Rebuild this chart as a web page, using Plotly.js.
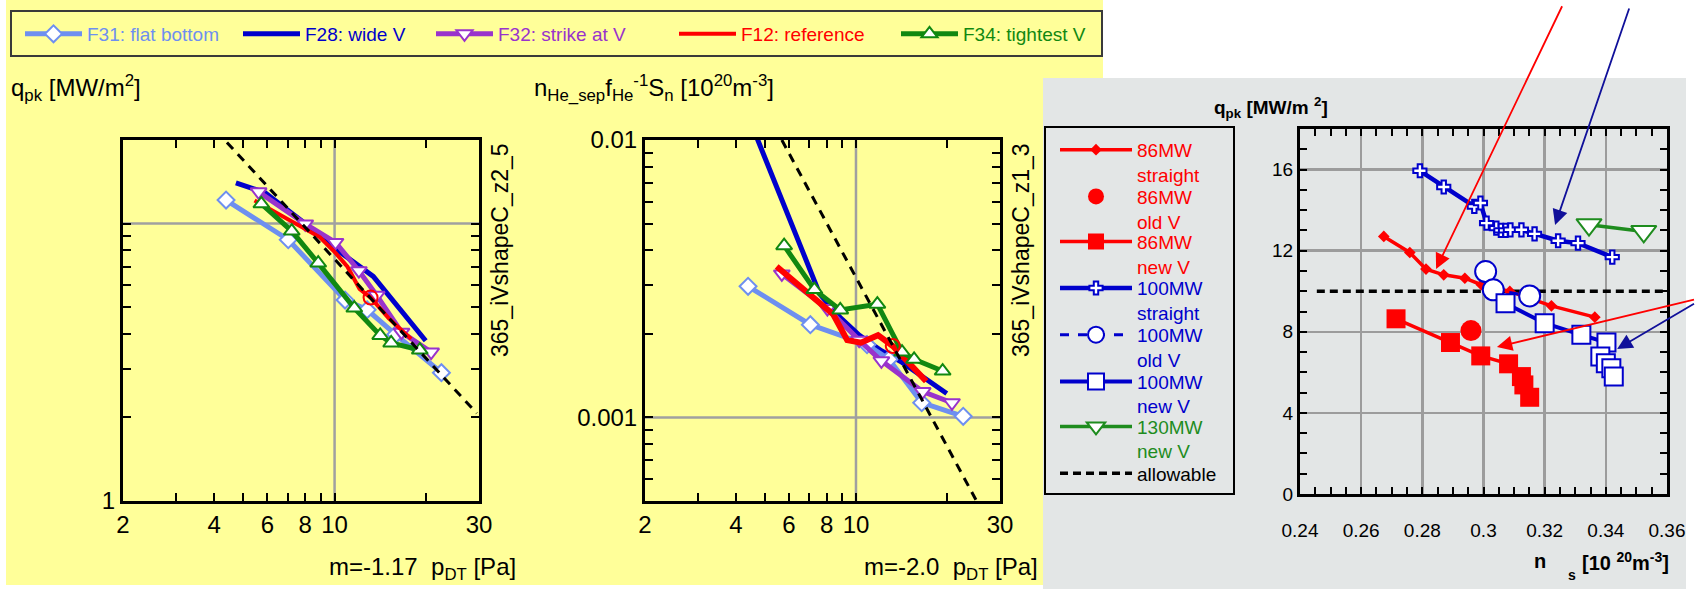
<!DOCTYPE html>
<html><head><meta charset="utf-8">
<script src="https://cdn.plot.ly/plotly-3.0.1.min.js"></script>
<style>html,body{margin:0;padding:0;background:#fff;} #chart{width:1697px;height:589px;}</style>
</head><body><div id="chart"></div>
<script>
// ---------------- tick labels ----------------
const pTickVals=[2,4,6,8,10,30];
const pTickText=['2','4','6','8','10','30'];
const pMinorVals=[3,5,7,9,20];
const qTickVals=[1];
const qTickText=['1'];
const qMinorVals=[2,3,4,5,6,7,8,9,10];
const nTickVals=[0.001,0.01];
const nTickText=['0.001','0.01'];
const nMinorVals=[0.0006,0.0007,0.0008,0.0009,0.002,0.003,0.004,0.005,0.006,0.007,0.008,0.009];
const nsTickVals=[0.24,0.26,0.28,0.30,0.32,0.34,0.36];
const nsTickText=['0.24','0.26','0.28','0.3','0.32','0.34','0.36'];
const qrTickVals=[0,4,8,12,16];
const qrTickText=['0','4','8','12','16'];

// ---------------- left panel: q_pk vs p_DT ----------------
const L_F31_p=[4.38,7.03,10.83,12.81,15.92,22.54];
const L_F31_q=[12.15,8.74,5.30,4.89,3.98,2.90];
const L_F28_p=[4.72,5.88,7.85,9.93,11.93,13.42,20.0];
const L_F28_q=[14.02,12.94,10.15,8.19,7.09,6.45,3.78];
const L_F32_p=[5.61,8.0,10.07,12.03,13.78,16.64,20.84];
const L_F32_q=[13.01,9.97,8.55,6.76,5.51,4.06,3.44];
const L_F12_p=[5.44,7.26,8.95,10.07,11.03,12.09,13.15,15.10,17.91];
const L_F12_q=[12.11,10.14,8.92,7.84,6.99,5.81,5.41,4.55,3.84];
const L_F34_p=[5.73,7.22,8.83,11.62,14.15,15.38,19.12];
const L_F34_q=[11.78,9.39,7.20,4.96,3.95,3.71,3.50];
const L_ref_p=[13.15];
const L_ref_q=[5.41];
const L_fit_p=[4.41,29.5];
const L_fit_q=[19.6,2.07];

// ---------------- middle panel: n_He_sep f_He^-1 S_n vs p_DT ----------------
const M_F31_p=[4.39,7.06,10.88,12.87,16.51,22.66];
const M_F31_n=[0.00297,0.00216,0.00183,0.00162,0.00113,0.00101];
const M_F28_p=[4.58,7.58,8.87,10.24,12.14,14.21,19.99];
const M_F28_n=[0.0109,0.00279,0.00229,0.00198,0.00174,0.00158,0.00122];
const M_F32_p=[5.68,8.04,10.24,12.14,16.63,20.8];
const M_F32_n=[0.00329,0.00247,0.0019,0.0016,0.00124,0.00113];
const M_F12_p=[5.46,7.0,8.41,9.35,10.38,11.83,13.24,14.59,17.08];
const M_F12_n=[0.0035,0.00279,0.00235,0.0019,0.00186,0.00198,0.00181,0.00162,0.00135];
const M_F34_p=[5.78,7.28,8.87,11.77,14.21,15.58,19.37];
const M_F34_n=[0.00416,0.00289,0.00244,0.00256,0.00172,0.00162,0.00147];
const M_ref_p=[13.24];
const M_ref_n=[0.00181];
const M_fit_p=[5.68,24.96];
const M_fit_n=[0.01,0.000505];

// ---------------- right panel: q_pk vs n_s ----------------
const R_86s_n=[0.2674,0.2759,0.2812,0.2870,0.2939,0.2993,0.3086,0.3222,0.3364];
const R_86s_q=[12.70,11.91,11.09,10.81,10.64,10.32,9.99,9.28,8.72];
const R_86o_n=[0.2959];
const R_86o_q=[8.06];
const R_86n_n=[0.2714,0.2892,0.2991,0.3082,0.3124,0.3132,0.3151];
const R_86n_q=[8.64,7.47,6.81,6.42,5.79,5.38,4.77];
const R_100s_n=[0.2792,0.2870,0.2970,0.2990,0.3010,0.3042,0.3057,0.3072,0.3088,0.3124,0.3167,0.3244,0.3309,0.3421];
const R_100s_q=[15.94,15.14,14.18,14.35,13.36,13.11,13.0,13.0,13.03,13.03,12.83,12.49,12.37,11.68];
const R_100o_n=[0.3007,0.3032,0.3151];
const R_100o_q=[10.97,10.07,9.77];
const R_100n_n=[0.3072,0.3200,0.3320,0.3402,0.3382,0.3400,0.3418,0.3426];
const R_100n_q=[9.41,8.42,7.85,7.47,6.78,6.45,6.20,5.79];
const R_130n_n=[0.3345,0.3524];
const R_130n_q=[13.28,12.95];
const R_allow_n=[0.2455,0.36];
const R_allow_q=[10,10];

// ---------------- styling / geometry ----------------
const W=1697, H=589;
const X=p=>p/W, Y=p=>1-p/H;
const FONT='Arial, "Liberation Sans", sans-serif';
const C31='#6E8FF0', C28='#0000CC', C32='#9933CC', C12='#FF0000', C34='#118811';
const RED='#FF0000', BLUE='#0000CC', GREEN='#1E8C1E';

function openMk(sym,size,col){return {symbol:sym,size:size,color:'white',line:{color:col,width:2}};}

const traces=[];
function panelSeries(xa,ya,d,show){
  traces.push({type:'scatter',x:d.F28[0],y:d.F28[1],xaxis:xa,yaxis:ya,mode:'lines',line:{color:C28,width:5},name:'F28: wide V',legend:'legend2',showlegend:show});
  traces.push({type:'scatter',x:d.F31[0],y:d.F31[1],xaxis:xa,yaxis:ya,mode:'lines+markers',line:{color:C31,width:5},marker:openMk('diamond',13,C31),name:'F31: flat bottom',legend:'legend',showlegend:show});
  traces.push({type:'scatter',x:d.F32[0],y:d.F32[1],xaxis:xa,yaxis:ya,mode:'lines+markers',line:{color:C32,width:5},marker:openMk('triangle-down',14,C32),name:'F32: strike at V',legend:'legend3',showlegend:show});
  traces.push({type:'scatter',x:d.F12[0],y:d.F12[1],xaxis:xa,yaxis:ya,mode:'lines',line:{color:C12,width:d.w12},name:'F12: reference',legend:'legend4',showlegend:show});
  traces.push({type:'scatter',x:d.F34[0],y:d.F34[1],xaxis:xa,yaxis:ya,mode:'lines+markers',line:{color:C34,width:5},marker:openMk('triangle-up',14,C34),name:'F34: tightest V',legend:'legend5',showlegend:show});
  traces.push({type:'scatter',x:d.ref[0],y:d.ref[1],xaxis:xa,yaxis:ya,mode:'markers',marker:{symbol:'circle-open',size:14,color:C12,line:{width:2}},showlegend:false});
  traces.push({type:'scatter',x:d.fit[0],y:d.fit[1],xaxis:xa,yaxis:ya,mode:'lines',line:{color:'black',width:3,dash:'9px,7px'},showlegend:false});
}
panelSeries('x','y',{F31:[L_F31_p,L_F31_q],F28:[L_F28_p,L_F28_q],F32:[L_F32_p,L_F32_q],F12:[L_F12_p,L_F12_q],F34:[L_F34_p,L_F34_q],ref:[L_ref_p,L_ref_q],fit:[L_fit_p,L_fit_q],w12:4},true);
panelSeries('x2','y2',{F31:[M_F31_p,M_F31_n],F28:[M_F28_p,M_F28_n],F32:[M_F32_p,M_F32_n],F12:[M_F12_p,M_F12_n],F34:[M_F34_p,M_F34_n],ref:[M_ref_p,M_ref_n],fit:[M_fit_p,M_fit_n],w12:6},false);

// right panel
traces.push({type:'scatter',x:R_allow_n,y:R_allow_q,xaxis:'x3',yaxis:'y3',mode:'lines',line:{color:'black',width:3.5,dash:'8px,5px'},name:'allowable',legend:'legend13'});
traces.push({type:'scatter',x:R_86s_n,y:R_86s_q,xaxis:'x3',yaxis:'y3',mode:'lines+markers',line:{color:RED,width:3.5},marker:{symbol:'diamond',size:9,color:RED},name:'86MW<br>straight',legend:'legend6'});
traces.push({type:'scatter',x:R_100s_n,y:R_100s_q,xaxis:'x3',yaxis:'y3',mode:'lines+markers',line:{color:BLUE,width:4.5},marker:{symbol:'cross',size:11,color:'white',line:{color:BLUE,width:2}},name:'100MW<br>straight',legend:'legend9'});
traces.push({type:'scatter',x:R_100o_n,y:R_100o_q,xaxis:'x3',yaxis:'y3',mode:'lines+markers',line:{color:BLUE,width:3,dash:'dash'},marker:openMk('circle',21,BLUE),name:'100MW<br>old V',legend:'legend10'});
traces.push({type:'scatter',x:R_100n_n,y:R_100n_q,xaxis:'x3',yaxis:'y3',mode:'lines+markers',line:{color:BLUE,width:4},marker:openMk('square',18,BLUE),name:'100MW<br>new V',legend:'legend11'});
traces.push({type:'scatter',x:R_86n_n,y:R_86n_q,xaxis:'x3',yaxis:'y3',mode:'lines+markers',line:{color:RED,width:3.5},marker:{symbol:'square',size:19,color:RED},name:'86MW<br>new V',legend:'legend8'});
traces.push({type:'scatter',x:R_86o_n,y:R_86o_q,xaxis:'x3',yaxis:'y3',mode:'markers',marker:{symbol:'circle',size:21,color:RED},name:'86MW<br>old V',legend:'legend7'});
traces.push({type:'scatter',x:R_130n_n,y:R_130n_q,xaxis:'x3',yaxis:'y3',mode:'lines+markers',line:{color:GREEN,width:3.5},marker:openMk('triangle-down',22,GREEN),name:'130MW<br>new V',legend:'legend12'});

// axes
function frameAxis(extra){
  return Object.assign({showline:true,mirror:'allticks',linecolor:'black',linewidth:3,ticks:'inside',ticklen:8,tickwidth:2,tickcolor:'black',
    showgrid:false,zeroline:false,automargin:false,tickfont:{family:FONT,size:24,color:'black'},ticklabelposition:'outside'},extra);
}
function minorArr(vals,len){return {tickmode:'array',tickvals:vals,ticks:'inside',ticklen:len||8,tickwidth:2,tickcolor:'black',showgrid:false};}
const pRange=[Math.log10(2),Math.log10(30)];
const layout={
  width:W,height:H,margin:{l:0,r:0,t:0,b:0},
  paper_bgcolor:'white',plot_bgcolor:'rgba(0,0,0,0)',
  font:{family:FONT,color:'black'},
  showlegend:true,hovermode:false,
  xaxis:frameAxis({type:'log',range:pRange,domain:[X(123),X(479)],anchor:'y',tickmode:'array',tickvals:pTickVals,ticktext:pTickText,minor:minorArr(pMinorVals),ticklabelstandoff:0.5}),
  yaxis:frameAxis({type:'log',range:[0,Math.log10(20)],domain:[Y(501),Y(140)],anchor:'x',tickmode:'array',tickvals:qTickVals,ticktext:qTickText,minor:minorArr(qMinorVals)}),
  xaxis2:frameAxis({type:'log',range:pRange,domain:[X(645),X(1000)],anchor:'y2',tickmode:'array',tickvals:pTickVals,ticktext:pTickText,minor:minorArr(pMinorVals),ticklabelstandoff:0.5}),
  yaxis2:frameAxis({type:'log',range:[Math.log10(0.0005),-2],domain:[Y(501),Y(140)],anchor:'x2',tickmode:'array',tickvals:nTickVals,ticktext:nTickText,minor:minorArr(nMinorVals)}),
  xaxis3:frameAxis({range:[0.24,0.36],domain:[X(1300),X(1667)],anchor:'y3',tickmode:'array',tickvals:nsTickVals,ticktext:nsTickText,
    ticklen:7,showgrid:true,gridcolor:'#9c9c9c',gridwidth:2.5,tickfont:{family:FONT,size:19,color:'black'},ticklabelstandoff:17,
    minor:{dtick:0.005,tick0:0.24,ticks:'inside',ticklen:7,tickwidth:2,tickcolor:'black',showgrid:false}}),
  yaxis3:frameAxis({range:[0,18],domain:[Y(494),Y(129)],anchor:'x3',tickmode:'array',tickvals:qrTickVals,ticktext:qrTickText,
    ticklen:7,showgrid:true,gridcolor:'#9c9c9c',gridwidth:2.5,tickfont:{family:FONT,size:19,color:'black'},
    minor:{dtick:1,tick0:0,ticks:'inside',ticklen:7,tickwidth:2,tickcolor:'black',showgrid:false}}),
  shapes:[],annotations:[]
};

// legends
function lg(xp,ycp,col,iw,valign){
  return {x:X(xp),y:Y(ycp),xanchor:'left',yanchor:'middle',bgcolor:'rgba(0,0,0,0)',borderwidth:0,
    font:{family:FONT,size:19,color:col},itemwidth:iw,valign:valign||'middle',tracegroupgap:0};
}
layout.legend=lg(20,34,C31,57);
layout.legend2=lg(238,34,C28,57);
layout.legend3=lg(431,34,C32,57);
layout.legend4=lg(674,34,C12,57);
layout.legend5=lg(896,34,C34,57);
const LH=19*1.3/2;
layout.legend6=lg(1055,150+LH,RED,72,'top');
layout.legend7=lg(1055,196.7+LH,RED,72,'top');
layout.legend8=lg(1055,241.7+LH,RED,72,'top');
layout.legend9=lg(1055,288.3+LH,BLUE,72,'top');
layout.legend10=lg(1055,335+LH,BLUE,72,'top');
layout.legend11=lg(1055,381.7+LH,BLUE,72,'top');
layout.legend12=lg(1055,426.7+LH,GREEN,72,'top');
layout.legend13=lg(1055,473.3,'black',72);

// background panels, boxes, single gridlines
const S=layout.shapes;
S.push({type:'rect',xref:'paper',yref:'paper',x0:X(6),x1:X(1103),y0:Y(585),y1:Y(0),fillcolor:'#FFFF99',line:{width:0},layer:'below'});
S.push({type:'rect',xref:'paper',yref:'paper',x0:X(1043),x1:X(1686),y0:Y(589),y1:Y(78),fillcolor:'#E3E6E6',line:{width:0},layer:'below'});
S.push({type:'rect',xref:'paper',yref:'paper',x0:X(11),x1:X(1102),y0:Y(56),y1:Y(11),line:{color:'#3a3a3a',width:2},layer:'below'});
S.push({type:'rect',xref:'paper',yref:'paper',x0:X(1045),x1:X(1234),y0:Y(494),y1:Y(127),line:{color:'black',width:2},layer:'below'});
const fx10=(1-pRange[0])/(pRange[1]-pRange[0]);
const fy10=1/Math.log10(20);
const fy001=(-3-Math.log10(0.0005))/(-2-Math.log10(0.0005));
const G={color:'#a0a0a0',width:2.5};
S.push({type:'line',xref:'x domain',yref:'y domain',x0:fx10,x1:fx10,y0:0,y1:1,line:G,layer:'below'});
S.push({type:'line',xref:'x domain',yref:'y domain',x0:0,x1:1,y0:fy10,y1:fy10,line:G,layer:'below'});
S.push({type:'line',xref:'x2 domain',yref:'y2 domain',x0:fx10,x1:fx10,y0:0,y1:1,line:G,layer:'below'});
S.push({type:'line',xref:'x2 domain',yref:'y2 domain',x0:0,x1:1,y0:fy001,y1:fy001,line:G,layer:'below'});

// text annotations
const A=layout.annotations;
function txt(xp,yp,text,opt){A.push(Object.assign({xref:'paper',yref:'paper',x:X(xp),y:Y(yp),text:text,showarrow:false,
  xanchor:'left',yanchor:'middle',font:{family:FONT,size:24,color:'black'}},opt||{}));}
txt(9,88,'q<sub>pk</sub> [MW/m<sup>2</sup>]');
txt(518,568,'m=-1.17  p<sub>DT</sub> [Pa]',{xanchor:'right'});
txt(500,250,'365_iVshapeC_z2_5',{xanchor:'center',textangle:-90,font:{family:FONT,size:23,color:'black'}});
txt(532,88,'n<sub>He_sep</sub>f<sub>He</sub><sup>-1</sup>S<sub>n</sub> [10<sup>20</sup>m<sup>-3</sup>]');
txt(1040,568,'m=-2.0  p<sub>DT</sub> [Pa]',{xanchor:'right'});
txt(1021,250,'365_iVshapeC_z1_3',{xanchor:'center',textangle:-90,font:{family:FONT,size:23,color:'black'}});
txt(1212,108,'<b>q<sub>pk</sub> [MW/m <sup>2</sup>]</b>',{font:{family:FONT,size:19,color:'black'}});
txt(1532,561,'<b>n</b>',{font:{family:FONT,size:20,color:'black'}});
txt(1566,575,'<b>s</b>',{font:{family:FONT,size:14,color:'black'}});
txt(1580,561,'<b>[10 <sup>20</sup>m<sup>-3</sup>]</b>',{font:{family:FONT,size:20,color:'black'}});

// arrows
function arrow(x,y,ax,ay,col){A.push({xref:'x3',yref:'y3',x:x,y:y,ax:ax,ay:ay,axref:'pixel',ayref:'pixel',showarrow:true,
  arrowhead:2,arrowsize:1.7,arrowwidth:1.8,arrowcolor:col,standoff:0});}
arrow(0.2845,11.10,129,-289,'#FF0000');
arrow(0.3234,13.27,77,-245,'#10109A');
arrow(0.3044,7.25,223,-48,'#FF0000');
arrow(0.3437,7.15,103,-47,'#10109A');

Plotly.newPlot('chart',traces,layout,{staticPlot:true,displayModeBar:false});
</script></body></html>
